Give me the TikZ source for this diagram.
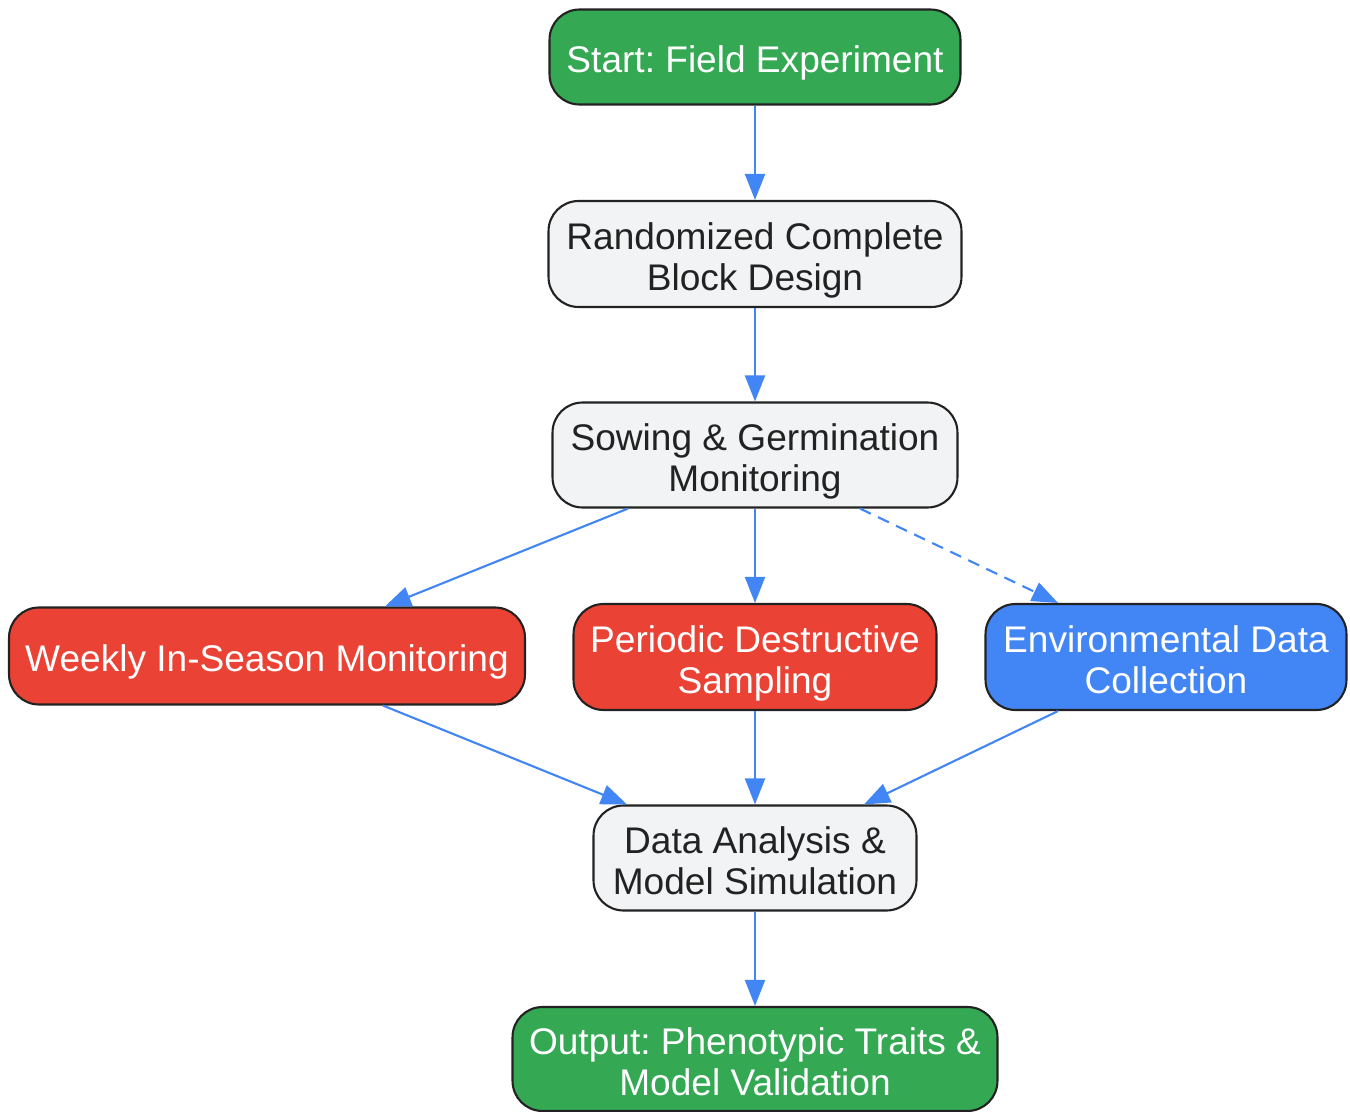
\documentclass[tikz,border=0pt]{standalone}
\usepackage{fontspec}
\setmainfont{Liberation Sans}
\usetikzlibrary{arrows.meta}
\frenchspacing

\definecolor{startgreen}{HTML}{34A853}
\definecolor{stepgray}{HTML}{F1F3F4}
\definecolor{samplered}{HTML}{EA4335}
\definecolor{envblue}{HTML}{4285F4}
\definecolor{edgeblue}{HTML}{4285F4}
\definecolor{rimdark}{HTML}{222222}

% text sits a little low in the boxes
\newcommand{\boxtext}[1]{\raisebox{-0.15cm}[\height][\depth]{\begin{tabular}{@{}c@{}}#1\end{tabular}}}

\tikzset{
  box/.style={draw=rimdark, line width=1.2pt, rounded corners=0.6cm, inner sep=0pt,
              align=center, font=\fontsize{21.1}{23.4}\selectfont},
  greenbox/.style={box, fill=startgreen, text=white},
  graybox/.style={box, fill=stepgray, text=rimdark},
  redbox/.style={box, fill=samplered, text=white},
  bluebox/.style={box, fill=envblue, text=white},
  flow/.style={draw=edgeblue, line width=1.2pt, -{Triangle[length=0.52cm, width=0.4cm]}},
}

\begin{document}
\begin{tikzpicture}[x=0.02cm, y=-0.02cm]
  %picture frame, one unit is one pixel of the reference
  \useasboundingbox (0,0) rectangle (1350,1112);

  % the steps down the middle
  \node[greenbox, minimum width=8.22cm, minimum height=1.9cm] (start) at (755,57) {\boxtext{Start: Field Experiment}};
  \node[graybox, minimum width=8.26cm, minimum height=2.12cm] (rcbd) at (755,254) {\boxtext{Randomized Complete\\Block Design}};
  \node[graybox, minimum width=8.1cm, minimum height=2.1cm] (sowing) at (755,455) {\boxtext{Sowing \& Germination\\Monitoring}};

  % the three parallel branches
  \node[redbox, minimum width=10.32cm, minimum height=1.94cm] (weekly) at (267,656) {\boxtext{Weekly In-Season Monitoring}};
  \node[redbox, minimum width=7.26cm, minimum height=2.12cm] (destruct) at (755,657) {\boxtext{Periodic Destructive\\Sampling}};
  \node[bluebox, minimum width=7.22cm, minimum height=2.12cm] (envdata) at (1166,657) {\boxtext{Environmental Data\\Collection}};

  % analysis and result
  \node[graybox, minimum width=6.46cm, minimum height=2.1cm] (analysis) at (755,858) {\boxtext{Data Analysis \&\\Model Simulation}};
  \node[greenbox, minimum width=9.7cm, minimum height=2.08cm] (output) at (755,1059) {\boxtext{Output: Phenotypic Traits \&\\Model Validation}};

  % connectors
  \draw[flow] (start) -- (rcbd);
  \draw[flow] (rcbd) -- (sowing);
  \draw[flow] ([xshift=-2.54cm]sowing.south) -- ([xshift=2.36cm]weekly.north);
  \draw[flow] (sowing) -- (destruct);
  \draw[flow, dash pattern=on 0.24cm off 0.16cm] ([xshift=2.1cm]sowing.south) -- ([xshift=-2.16cm]envdata.north);
  \draw[flow] ([xshift=2.32cm]weekly.south) -- ([xshift=-2.56cm]analysis.north);
  \draw[flow] (destruct) -- (analysis);
  \draw[flow] ([xshift=-2.16cm]envdata.south) -- ([xshift=2.18cm]analysis.north);
  \draw[flow] (analysis) -- (output);
\end{tikzpicture}
\end{document}
